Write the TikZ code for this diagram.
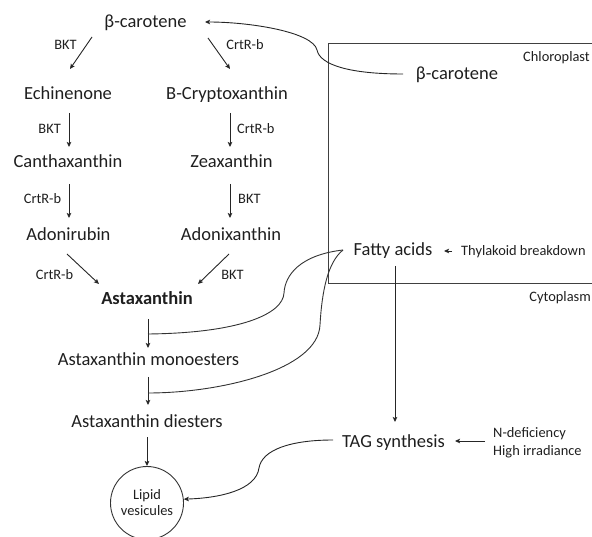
\documentclass[tikz,border=0pt]{standalone}
\usepackage{fontspec}
\setmainfont{Carlito}
\usetikzlibrary{arrows.meta,calc}
\begin{document}
\begin{tikzpicture}[x=1pt,y=-1pt,
  main/.style={font=\fontsize{18.5}{22}\selectfont, inner sep=0pt, anchor=base, text=black!88},
  small/.style={font=\fontsize{14.4}{17}\selectfont, inner sep=0pt, anchor=base, text=black!88},
  arr/.style={line width=0.9pt, draw=black!85, -{Stealth[length=5pt,width=4.5pt,inset=1pt]}},
  ln/.style={line width=0.9pt, draw=black!80},
  boxline/.style={line width=1pt, draw=black!75}]
\useasboundingbox (0,0) rectangle (592,537);
% chloroplast box
\draw[boxline] (600,44) -- (328,44) -- (328,284) -- (600,284);
% nodes
\node[main] (bc) at (145.5,28) {β-carotene};
\node[main] (ech) at (68,100) {Echinenone};
\node[main] (bcx) at (227,100) {B-Cryptoxanthin};
\node[main] (can) at (68,168) {Canthaxanthin};
\node[main] (zea) at (231.5,168) {Zeaxanthin};
\node[main] (adr) at (68.5,241) {Adonirubin};
\node[main] (adx) at (231,241) {Adonixanthin};
\node[main,font=\fontsize{18.5}{22}\selectfont\bfseries] (ast) at (147,305) {Astaxanthin};
\node[main] (mono) at (148.5,366) {Astaxanthin monoesters};
\node[main] (di) at (147,428) {Astaxanthin diesters};
\node[circle, draw=black!80, line width=0.9pt, minimum size=73pt, inner sep=0pt,
      font=\fontsize{14.4}{16}\selectfont, align=center, text=black!88] (lv) at (147,503) {Lipid\\vesicules};
\node[main] (ibc) at (457,80) {β-carotene};
\node[main] (fa) at (393,256) {Fatty acids};
\node[main] (tag) at (393.5,447) {TAG synthesis};
\node[small,anchor=base east] (chl) at (590,62) {Chloroplast};
\node[small,anchor=base east] (cyt) at (591,302) {Cytoplasm};
\node[small,anchor=base west] (thy) at (461,256) {Thylakoid breakdown};
\node[small,anchor=base west] (nd1) at (493,437) {N-deficiency};
\node[small,anchor=base west] (nd2) at (493,455) {High irradiance};
% enzyme labels
\node[small] (l1) at (65.5,50) {BKT};
\node[small] (l2) at (245,50) {CrtR-b};
\node[small,anchor=base east] (l3) at (61,134) {BKT};
\node[small,anchor=base west] (l4) at (237,134) {CrtR-b};
\node[small] (l5) at (42.5,204) {CrtR-b};
\node[small,anchor=base west] (l6) at (238,204) {BKT};
\node[small] (l7) at (54.5,280) {CrtR-b};
\node[small] (l8) at (232.5,280) {BKT};
% junction coordinates on the ester arrows
\coordinate (j1) at ([shift={(1,29)}]ast.base);
\coordinate (j2) at ([shift={(-0.5,27)}]mono.base);
% straight arrows
\draw[arr] ([shift={(-53.5,9)}]bc.base) -- ([shift={(2,-31)}]ech.base);
\draw[arr] ([shift={(62.5,10)}]bc.base) -- ([shift={(3,-31)}]bcx.base);
\draw[arr] ([shift={(1,13)}]ech.base) -- ([shift={(1,-21)}]can.base);
\draw[arr] ([shift={(3,13)}]bcx.base) -- ([shift={(-1.5,-21)}]zea.base);
\draw[arr] ([shift={(1,16)}]can.base) -- ([shift={(0.5,-23)}]adr.base);
\draw[arr] ([shift={(-1.5,16)}]zea.base) -- ([shift={(-1,-23)}]adx.base);
\draw[arr] ([shift={(-1.5,13)}]adr.base) -- ([shift={(-48,-21)}]ast.base);
\draw[arr] ([shift={(-2,13)}]adx.base) -- ([shift={(51,-21)}]ast.base);
\draw[arr] ([shift={(1,14)}]ast.base) -- ([shift={(-0.5,-18)}]mono.base);
\draw[arr] ([shift={(-0.5,11)}]mono.base) -- ([shift={(1,-23)}]di.base);
\draw[arr] ([shift={(0,9)}]di.base) -- (lv.north);
\draw[arr] ([shift={(2,10)}]fa.base) -- ([shift={(1.5,-25)}]tag.base);
\draw[arr] ([shift={(-9,-5)}]thy.base west) -- ([shift={(51,-5)}]fa.base);
\draw[arr] ([shift={(-8,4)}]nd1.base west) -- ([shift={(61.5,-6)}]tag.base);
% curved connectors
\draw[arr] ([shift={(-54,-6)}]ibc.base) .. controls (350,74) and (320,65) .. (317,50)
   .. controls (313,32) and (250,22) .. ([shift={(59.5,-6)}]bc.base);
\draw[ln] ([shift={(-50,-6)}]fa.base) .. controls (300,255) and (285,275) .. (284,293)
   .. controls (283,314) and (240,333) .. (j1);
\draw[ln] ([shift={(-50,-6)}]fa.base) .. controls (328,262) and (322,290) .. (320,325)
   .. controls (318,370) and (220,393) .. (j2);
\draw[arr] ([shift={(-60.5,-7)}]tag.base) .. controls (290,440) and (262,450) .. (259,468)
   .. controls (256,490) and (220,498) .. (lv.6);
\end{tikzpicture}
\end{document}
